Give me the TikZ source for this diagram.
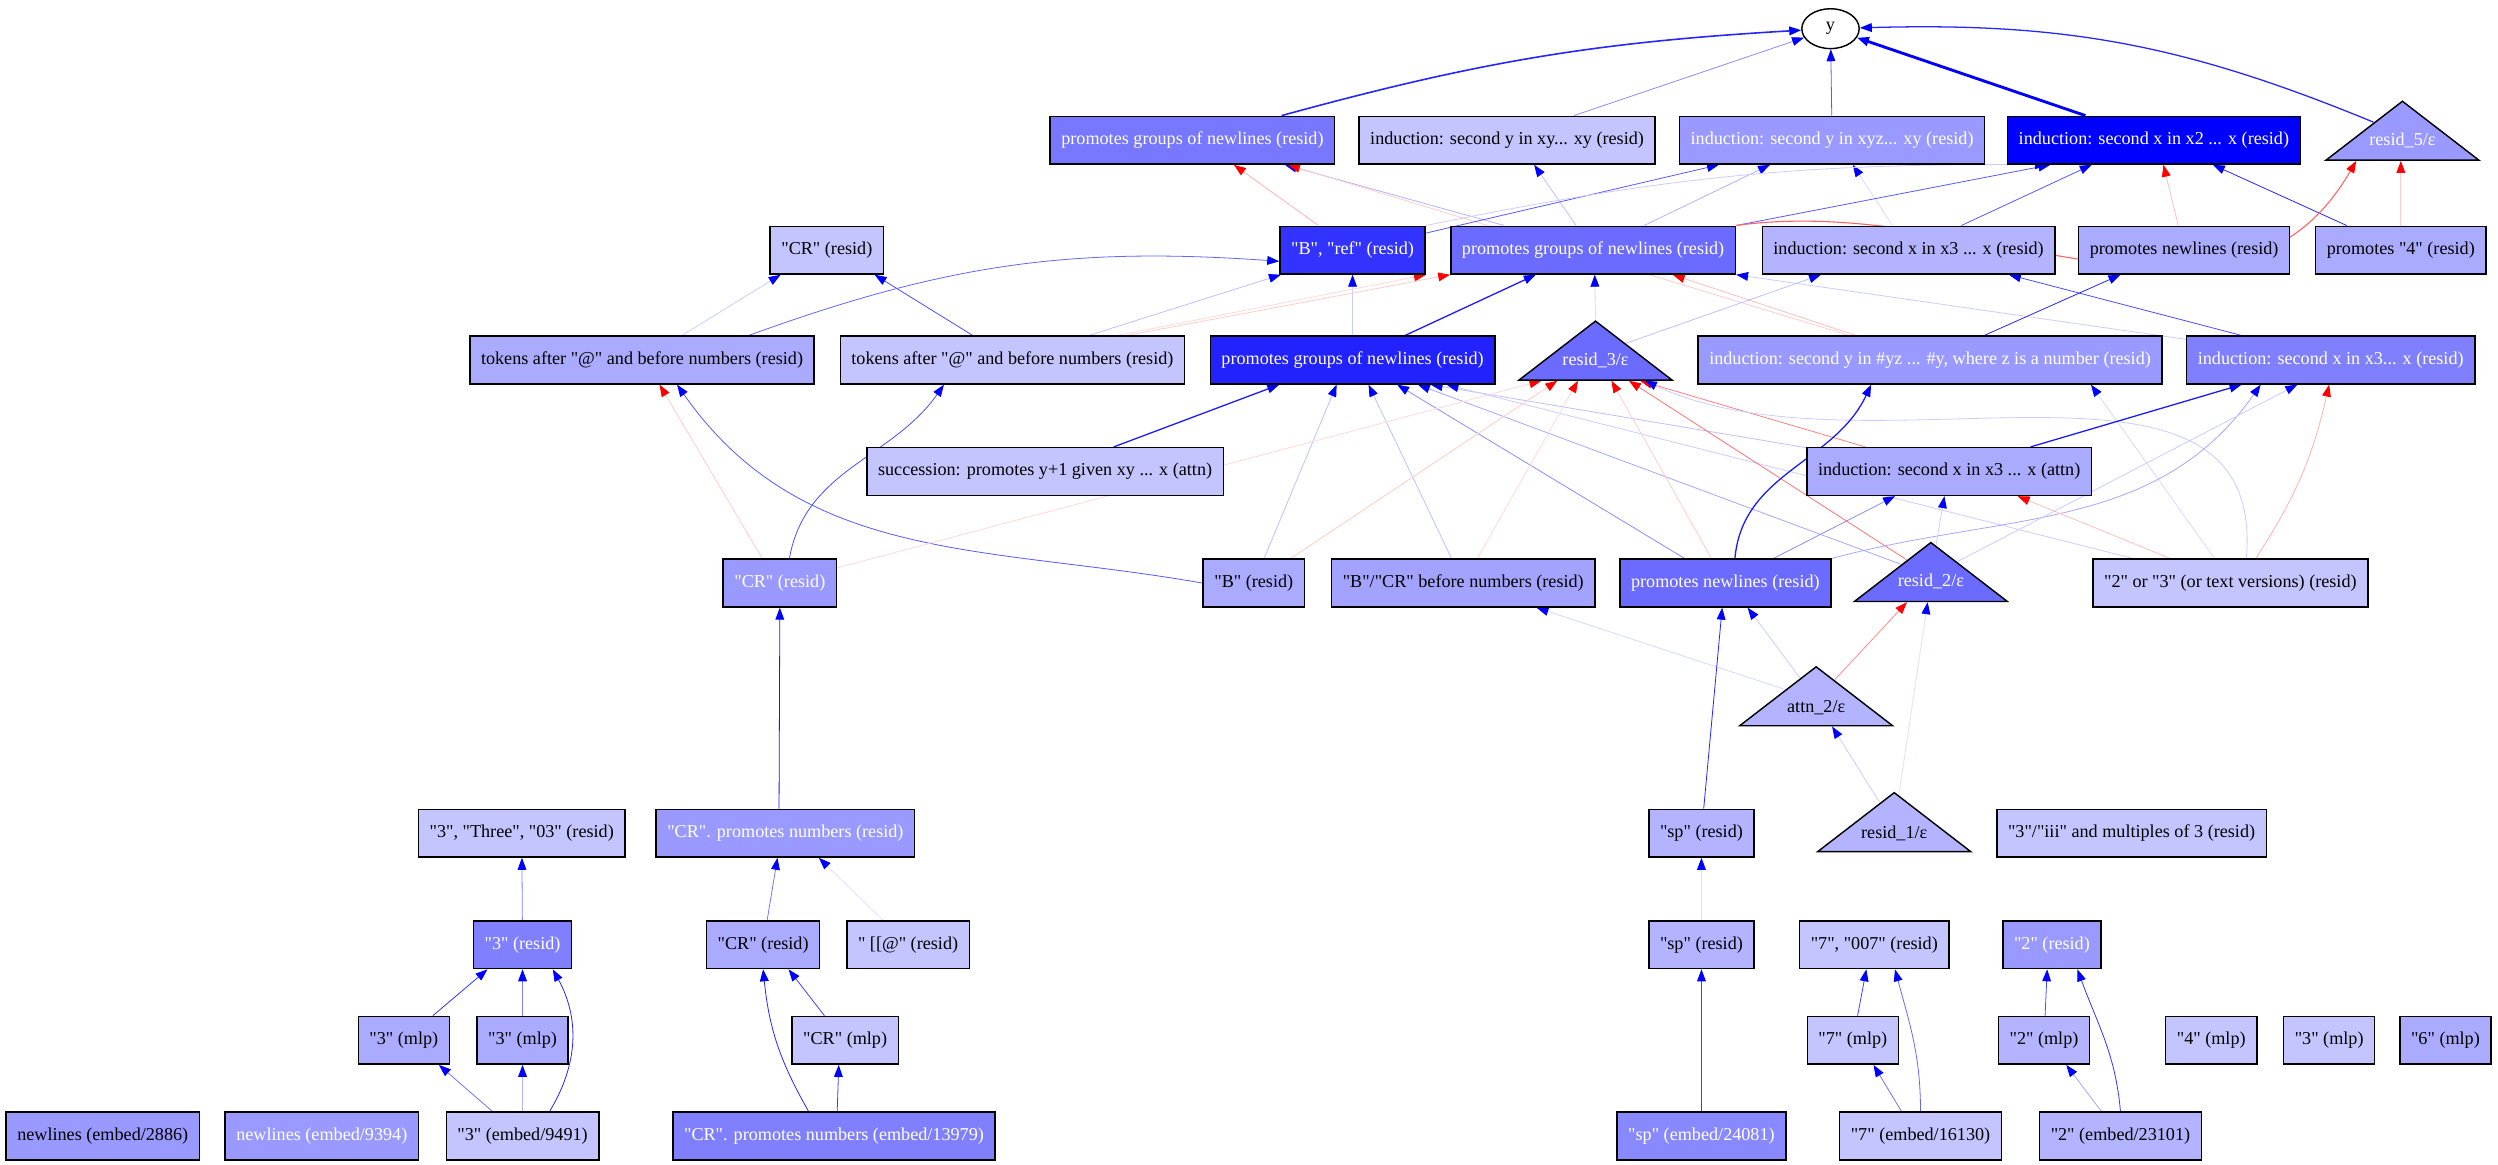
\documentclass[tikz,border=0pt]{standalone}
\usepackage{fontspec}
\newfontfamily\gvfont{Liberation Serif}
\usepackage{tikz}
\usetikzlibrary{shapes.geometric,backgrounds,arrows.meta}
\definecolor{paleblue}{RGB}{196,196,255}
\definecolor{softblue}{RGB}{179,179,255}
\definecolor{lilacblue}{RGB}{170,170,255}
\definecolor{lavblue}{RGB}{163,163,255}
\definecolor{midblue}{RGB}{153,153,255}
\definecolor{cornblue}{RGB}{136,136,255}
\definecolor{deepblue}{RGB}{128,128,255}
\definecolor{groupblue}{RGB}{119,119,255}
\definecolor{richblue}{RGB}{107,107,255}
\definecolor{strongblue}{RGB}{51,51,255}
\definecolor{inkblue}{RGB}{34,34,255}
\tikzset{
  box/.style={draw=black, line width=0.9pt, fill=#1, minimum height=30pt, inner xsep=7pt, inner ysep=0pt, font=\gvfont\fontsize{11.4}{13}\selectfont},
  wbox/.style={box=#1, text=white},
  tri/.style={draw=black, line width=0.9pt, fill=#1, isosceles triangle, isosceles triangle stretches, shape border rotate=90, minimum width=96pt, minimum height=37pt, inner sep=0pt, anchor=lower side},
  trilabel/.style={inner sep=0pt, font=\gvfont\fontsize{11.4}{13}\selectfont},
  ynode/.style={draw=black, line width=0.9pt, ellipse, minimum width=36pt, minimum height=25pt, inner sep=0pt, font=\gvfont\fontsize{11.4}{13}\selectfont},
  bl/.style={draw=blue!#1, line width=0.5pt, -{Triangle[length=7.5pt,width=5.5pt,color=blue]}},
  rd/.style={draw=red!#1, line width=0.5pt, -{Triangle[length=7.5pt,width=5.5pt,color=red]}}
}

\begin{document}
\begin{tikzpicture}[x=1pt,y=1pt]
    \useasboundingbox (0,0) rectangle (1568,-731);

    \node[ynode] (ny) at (1149,-18) {y};

    \node[wbox=groupblue] (pgnA) at (748.5,-88) {promotes groups of newlines (resid)};
    \node[box=paleblue] (indYxy) at (946,-88) {induction: second y in xy... xy (resid)};
    \node[wbox=midblue] (indYxyz) at (1150,-88) {induction: second y in xyz... xy (resid)};
    \node[wbox=blue] (indXx2) at (1352,-88) {induction: second x in x2 ... x (resid)};
    \node[tri=midblue] (res5) at (1508,-101) {};
    \node[trilabel, text=white] (res5l) at (1508,-88) {resid\_5/ε};

    \node[box=paleblue] (crB) at (519,-157) {"CR" (resid)};
    \node[wbox=strongblue] (bref) at (849,-157) {"B", "ref" (resid)};
    \node[wbox=richblue] (pgnB) at (1000,-157) {promotes groups of newlines (resid)};
    \node[box=softblue] (indXx3) at (1198,-157) {induction: second x in x3 ... x (resid)};
    \node[box=lilacblue] (pnl) at (1371,-157) {promotes newlines (resid)};
    \node[box=lilacblue] (p4) at (1507,-157) {promotes "4" (resid)};

    \node[box=lilacblue] (tokL) at (403,-226) {tokens after "@" and before numbers (resid)};
    \node[box=paleblue] (tokR) at (635.5,-226) {tokens after "@" and before numbers (resid)};
    \node[wbox=inkblue] (pgnC) at (849,-226) {promotes groups of newlines (resid)};
    \node[tri=richblue] (res3) at (1001.5,-239) {};
    \node[trilabel, text=white] (res3l) at (1001.5,-226) {resid\_3/ε};
    \node[wbox=midblue] (indYnum) at (1211.5,-226) {induction: second y in \#yz ... \#y, where z is a number (resid)};
    \node[wbox=deepblue] (indXx3b) at (1463,-226) {induction: second x in x3... x (resid)};

    \node[box=paleblue] (succ) at (656,-296) {succession: promotes y+1 given xy ... x (attn)};
    \node[box=lilacblue] (indXattn) at (1223.5,-296) {induction: second x in x3 ... x (attn)};

    \node[wbox=midblue] (crE) at (489.5,-366) {"CR" (resid)};
    \node[box=lilacblue] (bE) at (787,-366) {"B" (resid)};
    \node[box=lavblue] (bcr) at (918.5,-366) {"B"/"CR" before numbers (resid)};
    \node[wbox=richblue] (pnlE) at (1083,-366) {promotes newlines (resid)};
    \node[tri=richblue] (res2) at (1212,-378) {};
    \node[trilabel, text=white] (res2l) at (1212,-365) {resid\_2/ε};
    \node[box=paleblue] (twothree) at (1400,-366) {"2" or "3" (or text versions) (resid)};

    \node[tri=softblue] (attn2) at (1140,-456) {};
    \node[trilabel] (attn2l) at (1140,-444) {attn\_2/ε};

    \node[box=paleblue] (three3) at (327.5,-523) {"3", "Three", "03" (resid)};
    \node[wbox=midblue] (crnum) at (493,-523) {"CR". promotes numbers (resid)};
    \node[box=softblue] (spG) at (1068,-523) {"sp" (resid)};
    \node[tri=softblue] (res1) at (1189,-535) {};
    \node[trilabel] (res1l) at (1189,-523) {resid\_1/ε};
    \node[box=paleblue] (iii) at (1338,-523) {"3"/"iii" and multiples of 3 (resid)};

    \node[wbox=deepblue] (threeR) at (328,-593) {"3" (resid)};
    \node[box=lilacblue] (crH) at (479,-593) {"CR" (resid)};
    \node[box=paleblue] (brk) at (570,-593) {" [[@" (resid)};
    \node[box=softblue] (spH) at (1068,-593) {"sp" (resid)};
    \node[box=paleblue] (seven) at (1176.5,-593) {"7", "007" (resid)};
    \node[wbox=midblue] (twoR) at (1288,-593) {"2" (resid)};

    \node[box=lilacblue] (m3a) at (253.5,-653) {"3" (mlp)};
    \node[box=lilacblue] (m3b) at (328,-653) {"3" (mlp)};
    \node[box=paleblue] (mcr) at (530.5,-653) {"CR" (mlp)};
    \node[box=paleblue] (m7) at (1163,-653) {"7" (mlp)};
    \node[box=softblue] (m2) at (1283,-653) {"2" (mlp)};
    \node[box=paleblue] (m4) at (1388,-653) {"4" (mlp)};
    \node[box=paleblue] (m3c) at (1462,-653) {"3" (mlp)};
    \node[box=lilacblue] (m6) at (1535,-653) {"6" (mlp)};

    \node[box=midblue] (e2886) at (64.5,-713) {newlines (embed/2886)};
    \node[wbox=midblue] (e9394) at (202,-713) {newlines (embed/9394)};
    \node[box=paleblue] (e9491) at (328,-713) {"3" (embed/9491)};
    \node[wbox=deepblue] (e13979) at (523.5,-713) {"CR". promotes numbers (embed/13979)};
    \node[wbox=cornblue] (e24081) at (1068,-713) {"sp" (embed/24081)};
    \node[box=paleblue] (e16130) at (1205.5,-713) {"7" (embed/16130)};
    \node[box=softblue] (e23101) at (1331,-713) {"2" (embed/23101)};

    \begin{scope}[on background layer]
    \fill[white] (0,0) rectangle (1568,-731);
    \draw[bl=85, line width=1pt] ([xshift=56pt]pgnA.north) to[bend left=6] (ny);
    \draw[bl=45] ([xshift=42pt]indYxy.north) -- (ny);
    \draw[bl=65] (indYxyz) -- (ny);
    \draw[bl=100, line width=1.8pt] ([xshift=-43pt]indXx2.north) -- (ny);
    \draw[bl=85, line width=0.8pt] (res5) to[bend right=12] (ny);

    \draw[rd=30] (bref) -- ([xshift=26pt]pgnA.south);
    \draw[bl=30] (pgnB) -- ([xshift=58pt]pgnA.south);
    \draw[rd=20] (indYnum) -- ([xshift=60pt]pgnA.south);
    \draw[bl=25] (pgnB) -- ([xshift=17pt]indYxy.south);
    \draw[bl=65] (bref) -- ([xshift=-71pt]indYxyz.south);
    \draw[bl=30] (pgnB) -- ([xshift=-39pt]indYxyz.south);
    \draw[bl=15] (indXx3) -- ([xshift=13pt]indYxyz.south);
    \draw[bl=65] (pgnB.north east) -- ([xshift=-65pt]indXx2.south);
    \draw[bl=20] (bref.north east) to[bend left=6] ([xshift=-67pt]indXx2.south);
    \draw[bl=65] (indXx3) -- ([xshift=-39pt]indXx2.south);
    \draw[rd=25] (pnl) -- ([xshift=6pt]indXx2.south);
    \draw[bl=85] (p4) -- ([xshift=37pt]indXx2.south);
    \draw[rd=60, line width=0.7pt] (pgnB.north east) to[out=8, in=-120] ([xshift=-29pt]res5.lower side);
    \draw[rd=20] (p4) -- ([xshift=-1pt]res5.lower side);

    \draw[bl=20] (tokL) -- ([xshift=-29pt]crB.south);
    \draw[bl=70] (tokR) -- ([xshift=30pt]crB.south);
    \draw[bl=60] ([xshift=67pt]tokL.north) to[bend left=12] ([yshift=-7pt]bref.west);
    \draw[bl=25] ([xshift=48pt]tokR.north) -- ([xshift=-45pt]bref.south);
    \draw[bl=20] (pgnC) -- (bref);
    \draw[rd=15] ([xshift=66pt]tokR.north) -- (bref.south east);
    \draw[rd=20] ([xshift=72pt]tokR.north) -- (pgnB.south west);
    \draw[bl=90, line width=0.8pt] ([xshift=33pt]pgnC.north) -- ([xshift=-36pt]pgnB.south);
    \draw[bl=15] (res3.apex) -- ([xshift=1pt]pgnB.south);
    \draw[rd=25] (indYnum) -- ([xshift=50pt]pgnB.south);
    \draw[bl=20] (indXx3b) -- (pgnB.south east);
    \draw[bl=25] (res3) -- ([xshift=-55pt]indXx3.south);
    \draw[bl=70] ([xshift=-56pt]indXx3b.north) -- ([xshift=63pt]indXx3.south);
    \draw[bl=85] ([xshift=34pt]indYnum.north) -- ([xshift=-40pt]pnl.south);

    \draw[rd=20] ([xshift=-11pt]crE.north) -- ([xshift=11pt]tokL.south);
    \draw[bl=65] (bE.west) to[out=170, in=-55] ([xshift=22pt]tokL.south);
    \draw[bl=70] ([xshift=6pt]crE.north) to[out=80, in=-125] ([xshift=-43pt]tokR.south);

    \draw[bl=90, line width=0.8pt] ([xshift=43pt]succ.north) -- ([xshift=-46pt]pgnC.south);
    \draw[bl=25] (bE) -- ([xshift=-10pt]pgnC.south);
    \draw[bl=25] (bcr) -- ([xshift=10pt]pgnC.south);
    \draw[bl=45] (pnlE) -- ([xshift=28pt]pgnC.south);
    \draw[bl=35] (res2) -- ([xshift=41pt]pgnC.south);
    \draw[bl=25] (indXattn) -- ([xshift=49pt]pgnC.south);
    \draw[bl=20] (twothree) -- ([xshift=59pt]pgnC.south);

    \draw[rd=15] (crE) -- ([xshift=-34pt]res3.lower side);
    \draw[rd=20] (bE) -- ([xshift=-24pt]res3.lower side);
    \draw[rd=15] (bcr) -- ([xshift=-11pt]res3.lower side);
    \draw[rd=20] (pnlE) -- ([xshift=10pt]res3.lower side);
    \draw[rd=55] (res2) -- ([xshift=21pt]res3.lower side);
    \draw[rd=50] (indXattn) -- ([xshift=28pt]res3.lower side);
    \draw[bl=20] ([xshift=10pt]twothree.north) to[out=85, in=-25] ([xshift=31pt]res3.lower side);

    \draw[bl=90, line width=0.8pt] ([xshift=6pt]pnlE.north) to[out=85, in=-115] ([xshift=-37pt]indYnum.south);
    \draw[bl=15] ([xshift=-10pt]twothree.north) -- ([xshift=101pt]indYnum.south);
    \draw[bl=90, line width=0.8pt] ([xshift=51pt]indXattn.north) -- ([xshift=-56pt]indXx3b.south);
    \draw[bl=35] (pnlE.north east) to[out=15, in=-125] ([xshift=-44pt]indXx3b.south);
    \draw[bl=20] (res2) -- ([xshift=-21pt]indXx3b.south);
    \draw[rd=30] ([xshift=16pt]twothree.north) to[bend right=10] ([xshift=-1pt]indXx3b.south);
    \draw[bl=45] (pnlE) -- ([xshift=-34pt]indXattn.south);
    \draw[bl=20] (res2) -- ([xshift=-3pt]indXattn.south);
    \draw[rd=25] (twothree) -- ([xshift=43pt]indXattn.south);

    \draw[bl=15] (attn2) -- ([xshift=46pt]bcr.south);
    \draw[bl=85] (spG) -- ([xshift=-2pt]pnlE.south);
    \draw[bl=20] (attn2) -- ([xshift=14pt]pnlE.south);
    \draw[rd=45] (attn2) -- ([xshift=-15pt]res2.lower side);
    \draw[bl=12] (res1) -- ([xshift=-2pt]res2.lower side);
    \draw[bl=20] (res1) -- ([xshift=10pt]attn2.lower side);
    \draw[bl=12] (spH) -- (spG);
    \draw[bl=90] ([xshift=-4pt]crnum.north) -- (crE.south);
    \draw[bl=50] (threeR) -- (three3);
    \draw[bl=55] (crH) -- ([xshift=-5pt]crnum.south);
    \draw[bl=12] (brk) -- ([xshift=21pt]crnum.south);

    \draw[bl=80] (m3a) -- ([xshift=-22pt]threeR.south);
    \draw[bl=50] (m3b) -- (threeR);
    \draw[bl=85] ([xshift=17pt]e9491.north) to[bend right=30] ([xshift=19pt]threeR.south);
    \draw[bl=55] ([xshift=-19pt]e9491.north) -- ([xshift=22pt]m3a.south);
    \draw[bl=30] (e9491) -- (m3b);
    \draw[bl=85] ([xshift=-16pt]e13979.north) to[bend left=12] (crH.south);
    \draw[bl=75] ([xshift=-13pt]mcr.north) -- ([xshift=16pt]crH.south);
    \draw[bl=75] ([xshift=2pt]e13979.north) -- ([xshift=-4pt]mcr.south);
    \draw[bl=75] (e24081) -- (spH);
    \draw[bl=75] ([xshift=3pt]m7.north) -- ([xshift=-5pt]seven.south);
    \draw[bl=60] (e16130.north) to[out=90, in=-75] ([xshift=13pt]seven.south);
    \draw[bl=55] ([xshift=-12pt]e16130.north) -- ([xshift=13pt]m7.south);
    \draw[bl=70] (m2) -- ([xshift=-3pt]twoR.south);
    \draw[bl=80] (e23101.north) to[out=95, in=-70] ([xshift=16pt]twoR.south);
    \draw[bl=35] ([xshift=-12pt]e23101.north) -- ([xshift=14pt]m2.south);
    \end{scope}
\end{tikzpicture}
\end{document}
